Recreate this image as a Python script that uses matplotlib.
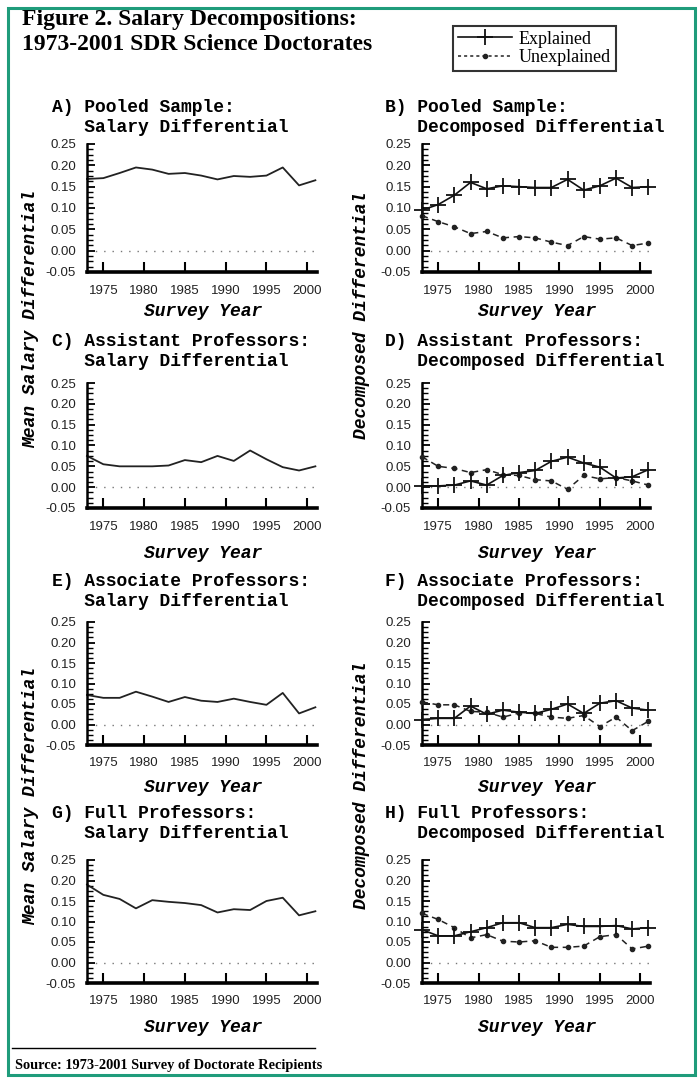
import matplotlib
matplotlib.use("Agg")
import matplotlib.pyplot as plt
from matplotlib.patches import Rectangle
from matplotlib.lines import Line2D
from matplotlib.ticker import MultipleLocator, FixedLocator, FormatStrFormatter

years = [1973, 1975, 1977, 1979, 1981, 1983, 1985, 1987, 1989, 1991, 1993, 1995, 1997, 1999, 2001]

pooled_total = [0.168, 0.170, 0.182, 0.195, 0.190, 0.180, 0.182, 0.176, 0.167, 0.175, 0.173, 0.176, 0.195, 0.153, 0.165]
pooled_expl = [0.095, 0.108, 0.130, 0.160, 0.145, 0.152, 0.150, 0.148, 0.148, 0.167, 0.142, 0.152, 0.170, 0.148, 0.150]
pooled_unexpl = [0.082, 0.068, 0.056, 0.040, 0.045, 0.030, 0.033, 0.030, 0.020, 0.012, 0.033, 0.027, 0.030, 0.012, 0.018]

asst_total = [0.075, 0.055, 0.050, 0.050, 0.050, 0.052, 0.065, 0.060, 0.075, 0.063, 0.088, 0.067, 0.048, 0.040, 0.050]
asst_expl = [0.003, 0.003, 0.005, 0.015, 0.005, 0.028, 0.035, 0.040, 0.062, 0.072, 0.058, 0.048, 0.022, 0.025, 0.042]
asst_unexpl = [0.073, 0.050, 0.045, 0.035, 0.042, 0.030, 0.028, 0.018, 0.015, -0.005, 0.028, 0.020, 0.023, 0.015, 0.005]

assoc_total = [0.072, 0.065, 0.065, 0.080, 0.068, 0.055, 0.067, 0.058, 0.055, 0.063, 0.055, 0.048, 0.077, 0.027, 0.042]
assoc_expl = [0.012, 0.015, 0.015, 0.045, 0.025, 0.035, 0.030, 0.027, 0.037, 0.050, 0.027, 0.052, 0.058, 0.040, 0.035]
assoc_unexpl = [0.055, 0.048, 0.048, 0.032, 0.030, 0.018, 0.028, 0.027, 0.018, 0.015, 0.022, -0.005, 0.018, -0.015, 0.008]

full_total = [0.190, 0.165, 0.155, 0.132, 0.152, 0.148, 0.145, 0.140, 0.122, 0.130, 0.128, 0.150, 0.158, 0.115, 0.125]
full_expl = [0.080, 0.065, 0.065, 0.075, 0.085, 0.097, 0.097, 0.085, 0.085, 0.093, 0.088, 0.088, 0.090, 0.082, 0.085]
full_unexpl = [0.120, 0.105, 0.085, 0.060, 0.068, 0.052, 0.050, 0.053, 0.037, 0.037, 0.040, 0.063, 0.068, 0.033, 0.040]

xticks = [1975, 1980, 1985, 1990, 1995, 2000]
yticks = [-0.05, 0.00, 0.05, 0.10, 0.15, 0.20, 0.25]

left_titles = ["A) Pooled Sample:\n   Salary Differential",
               "C) Assistant Professors:\n   Salary Differential",
               "E) Associate Professors:\n   Salary Differential",
               "G) Full Professors:\n   Salary Differential"]
right_titles = ["B) Pooled Sample:\n   Decomposed Differential",
                "D) Assistant Professors:\n   Decomposed Differential",
                "F) Associate Professors:\n   Decomposed Differential",
                "H) Full Professors:\n   Decomposed Differential"]
totals = [pooled_total, asst_total, assoc_total, full_total]
expls = [pooled_expl, asst_expl, assoc_expl, full_expl]
unexpls = [pooled_unexpl, asst_unexpl, assoc_unexpl, full_unexpl]

W, H = 700, 1078
fig = plt.figure(figsize=(W / 100, H / 100), dpi=100)
fig.patch.set_facecolor("white")

MONO = "Liberation Mono"
SERIF = "Liberation Serif"
SANS = "Liberation Sans"

def fx(px):
    return px / W

def fy(py):
    return 1 - py / H

# rows: (top px, bottom px, title line1 y, survey year y)
rows = [(144, 272, 107, 312), (383, 508, 342, 553), (622, 745, 581, 788), (860, 983, 814, 1027)]
cols = [(87, 317, 52, 203), (422, 650, 385, 537)]

def style_axis(ax):
    ax.set_xlim(1973, 2001.2)
    ax.set_ylim(-0.05, 0.25)
    for s in ["top", "right"]:
        ax.spines[s].set_visible(False)
    ax.spines["left"].set_linewidth(1.8)
    ax.spines["bottom"].set_linewidth(2.6)
    ax.xaxis.set_major_locator(FixedLocator(xticks))
    ax.yaxis.set_major_locator(FixedLocator(yticks))
    ax.yaxis.set_minor_locator(MultipleLocator(0.0125))
    ax.yaxis.set_major_formatter(FormatStrFormatter("%.2f"))
    ax.tick_params(axis="x", direction="in", length=7, width=1.5, pad=9, labelsize=9.5)
    ax.tick_params(axis="y", which="major", direction="in", length=6, width=1.3, pad=8, labelsize=9.5)
    ax.tick_params(axis="y", which="minor", direction="in", length=4, width=1.0)
    for lab in ax.get_xticklabels() + ax.get_yticklabels():
        lab.set_fontfamily(SANS)
        lab.set_color("#222222")
    ax.axhline(0, color="#777777", lw=1.0, ls=(0, (1, 5)), zorder=1)

for r, (top, bot, ty, sy) in enumerate(rows):
    for c, (x0, x1, tx, syx) in enumerate(cols):
        ax = fig.add_axes([fx(x0), fy(bot), fx(x1 - x0), (bot - top) / H])
        style_axis(ax)
        if c == 0:
            ax.plot(years, totals[r], color="#222222", lw=1.3, clip_on=False)
            title = left_titles[r]
        else:
            ax.plot(years, unexpls[r], color="#222222", lw=1.1, ls=(0, (4, 3)),
                    marker="o", markersize=3.0, clip_on=False, label="Unexplained", zorder=3)
            ax.plot(years, expls[r], color="#111111", lw=1.2, marker="+",
                    markersize=11, markeredgewidth=1.3, clip_on=False, label="Explained", zorder=4)
            title = right_titles[r]
        lines = title.split("\n")
        fig.text(fx(tx), fy(ty), lines[0], family=MONO, weight="bold", fontsize=13,
                 va="center", ha="left")
        fig.text(fx(tx), fy(ty + 20), lines[1], family=MONO, weight="bold", fontsize=13,
                 va="center", ha="left")
        fig.text(fx(syx), fy(sy), "Survey Year", family=MONO, weight="bold", style="italic",
                 fontsize=13, va="center", ha="center")

# y axis labels spanning two panels
ylab_kw = dict(family=MONO, weight="bold", style="italic", fontsize=13, rotation=90,
               va="center", ha="center")
fig.text(fx(31), fy(319), "Mean Salary Differential", **ylab_kw)
fig.text(fx(31), fy(796), "Mean Salary Differential", **ylab_kw)
fig.text(fx(361), fy(315), "Decomposed Differential", **ylab_kw)
fig.text(fx(361), fy(785), "Decomposed Differential", **ylab_kw)

# figure title
fig.text(fx(22), fy(20), "Figure 2. Salary Decompositions:", family=SERIF, weight="bold",
         fontsize=17, va="center", ha="left")
fig.text(fx(22), fy(44), "1973-2001 SDR Science Doctorates", family=SERIF, weight="bold",
         fontsize=17, va="center", ha="left")

# legend
h_ex = Line2D([], [], color="#111111", lw=1.2, marker="+", markersize=11, markeredgewidth=1.3)
h_un = Line2D([], [], color="#222222", lw=1.1, ls=(0, (2, 2)), marker="o", markersize=3)
leg = fig.legend([h_ex, h_un], ["Explained", "Unexplained"], loc="upper left",
                 bbox_to_anchor=(fx(453), fy(26)), prop={"family": SERIF, "size": 13},
                 frameon=True, fancybox=False, edgecolor="black", handlelength=3.0,
                 handletextpad=0.4, borderpad=0.25, labelspacing=0.1, borderaxespad=0,
                 markerscale=1.0)
leg.get_frame().set_linewidth(1.5)

# source line
fig.add_artist(Line2D([fx(12), fx(315)], [fy(1048), fy(1048)], color="black", lw=1.0,
                      transform=fig.transFigure))
fig.text(fx(15), fy(1065), "Source: 1973-2001 Survey of Doctorate Recipients", family=SERIF,
         weight="bold", fontsize=10.4, va="center", ha="left")

# green border
fig.patches.append(Rectangle((fx(8), fy(1075)), fx(695) - fx(8), fy(8) - fy(1075),
                             transform=fig.transFigure, fill=False, edgecolor="#1f9c7b",
                             lw=2.2, zorder=10))

fig.savefig("out.png", dpi=100)
